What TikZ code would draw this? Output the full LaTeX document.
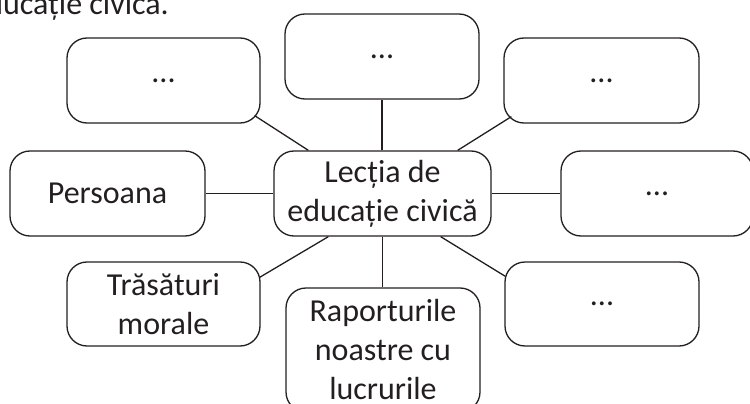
\documentclass[tikz,border=0pt]{standalone}
\usepackage{fontspec}
\setmainfont{Carlito}
\usetikzlibrary{calc}
\definecolor{ink}{HTML}{231F20}
\begin{document}
\begin{tikzpicture}[x=1pt,y=-1pt,
  box/.style={draw=ink, line width=1.3pt, rounded corners=20pt, inner sep=0pt,
    align=center, text=ink, font=\fontsize{32}{39}\selectfont,
    minimum height=85pt},
  link/.style={draw=ink, line width=1.3pt}]
\useasboundingbox (0,0) rectangle (750,404);
\node[anchor=base east, inner sep=0pt, text=ink, font=\fontsize{32}{39}\selectfont] (title) at (169,15) {educație civică.};
\node[box, minimum width=193pt] (tl) at (163.5,80.5) {...};
\node[box, minimum width=194pt] (tc) at (382,56.5) {...};
\node[box, minimum width=195pt] (tr) at (601.5,80.5) {...};
\node[box, minimum width=195pt] (pers) at (107.5,193.5) {Persoana};
\node[box, minimum width=217pt] (cen) at (382.5,193.5) {Lecția de\\educație civică};
\node[box, minimum width=192pt] (rm) at (657,193.5) {...};
\node[box, minimum width=193pt, minimum height=84pt] (tras) at (163.5,304) {Trăsături\\morale};
\node[box, minimum width=194pt, minimum height=124pt] (rap) at (383,350) {Raporturile\\noastre cu\\lucrurile};
\node[box, minimum width=194pt, minimum height=84pt] (br) at (602,304) {...};
\draw[link] ($(tl.south east)+(-6,-8)$) -- ($(cen.north west)+(35,0)$);
\draw[link] (tc.south) -- (tc.south |- cen.north);
\draw[link] ($(tr.south west)+(8,-7)$) -- ($(cen.north east)+(-34,0)$);
\draw[link] (pers.east) -- (cen.west);
\draw[link] (cen.east) -- (rm.west);
\draw[link] ($(cen.south west)+(55,0)$) -- ($(tras.north east)+(-1,16)$);
\draw[link] (cen.south) -- (cen.south |- rap.north);
\draw[link] ($(cen.south east)+(-51,0)$) -- ($(br.north west)+(1,15)$);
\end{tikzpicture}
\end{document}
